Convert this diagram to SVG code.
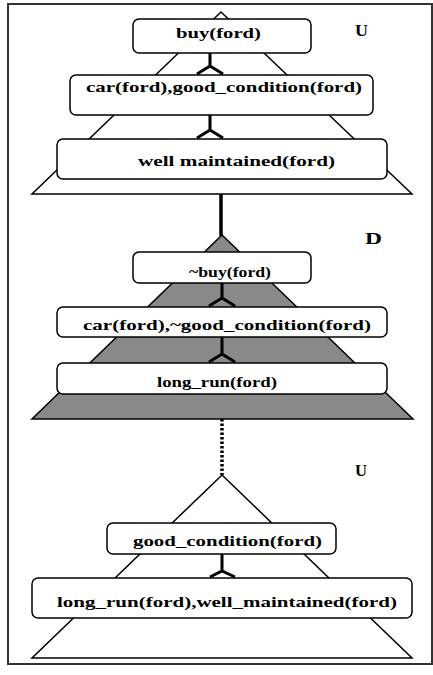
<svg xmlns="http://www.w3.org/2000/svg" width="433" height="675" viewBox="0 0 433 675">
<style>
.frame{fill:none;stroke:#333;stroke-width:2}
.tri{fill:#fff;stroke:#000;stroke-width:1.5;stroke-linejoin:miter}
.tri.dark{fill:#898989}
.box{fill:#fff;stroke:#000;stroke-width:1.5}
.t{font-family:"Liberation Serif","Times New Roman",serif;font-weight:bold;font-size:15px;fill:#000}
.lbl{font-family:"Liberation Serif","Times New Roman",serif;font-weight:bold;font-size:16px;fill:#000}
.fork{fill:none;stroke:#000;stroke-width:3;stroke-linejoin:miter}
.link{stroke:#000;stroke-width:3.5}
.dots{stroke:#000;stroke-width:3.5;stroke-dasharray:2.5 2}
</style>
<rect class="frame" x="8" y="4" width="424" height="660"/>
<g id="triangles">
<polygon id="tri1" class="tri" points="221,12 32,194 412,194"/>
<polygon id="tri2" class="tri dark" points="222,235 32,419 413,419"/>
<polygon id="tri3" class="tri" points="222,475 32,658 412,658"/>
</g>
<g id="connectors">
<line class="link" x1="221" y1="194" x2="221" y2="236"/>
<line class="dots" x1="222" y1="419" x2="222" y2="475"/>
<path class="fork" d="M210,53 V66 M197,74 L210,66 L223,74"/>
<path class="fork" d="M210,115 V130 M197,138 L210,130 L223,138"/>
<path class="fork" d="M222,283 V298 M209,306 L222,298 L235,306"/>
<path class="fork" d="M222,337 V354 M209,362 L222,354 L235,362"/>
<path class="fork" d="M222,554 V571 M210,577 L222,571 L235,577"/>
</g>
<g id="n1"><rect class="box" x="133" y="19" width="178" height="34" rx="6"/><text class="t" x="176" y="38" textLength="85" lengthAdjust="spacingAndGlyphs">buy(ford)</text></g>
<g id="n2"><rect class="box" x="70" y="75" width="303" height="40" rx="6"/><text class="t" x="86" y="92" textLength="276" lengthAdjust="spacingAndGlyphs">car(ford),good_condition(ford)</text></g>
<g id="n3"><rect class="box" x="57" y="139" width="330" height="40" rx="6"/><text class="t" x="138" y="166" textLength="197" lengthAdjust="spacingAndGlyphs">well maintained(ford)</text></g>
<g id="n4"><rect class="box" x="133" y="252" width="178" height="31" rx="6"/><text class="t" x="189" y="277" textLength="82" lengthAdjust="spacingAndGlyphs">~buy(ford)</text></g>
<g id="n5"><rect class="box" x="57" y="307" width="330" height="30" rx="6"/><text class="t" x="83" y="330" textLength="288" lengthAdjust="spacingAndGlyphs">car(ford),~good_condition(ford)</text></g>
<g id="n6"><rect class="box" x="57" y="363" width="330" height="31" rx="6"/><text class="t" x="157" y="387" textLength="120" lengthAdjust="spacingAndGlyphs">long_run(ford)</text></g>
<g id="n7"><rect class="box" x="107" y="523" width="229" height="31" rx="6"/><text class="t" x="133" y="546" textLength="189" lengthAdjust="spacingAndGlyphs">good_condition(ford)</text></g>
<g id="n8"><rect class="box" x="32" y="578" width="380" height="40" rx="6"/><text class="t" x="57" y="607" textLength="340" lengthAdjust="spacingAndGlyphs">long_run(ford),well_maintained(ford)</text></g>
<g id="labels">
<text class="lbl" x="355" y="36" textLength="13" lengthAdjust="spacingAndGlyphs">U</text>
<text class="lbl" x="365" y="244" textLength="17" lengthAdjust="spacingAndGlyphs">D</text>
<text class="lbl" x="355" y="476" textLength="12" lengthAdjust="spacingAndGlyphs">U</text>
</g>
</svg>
